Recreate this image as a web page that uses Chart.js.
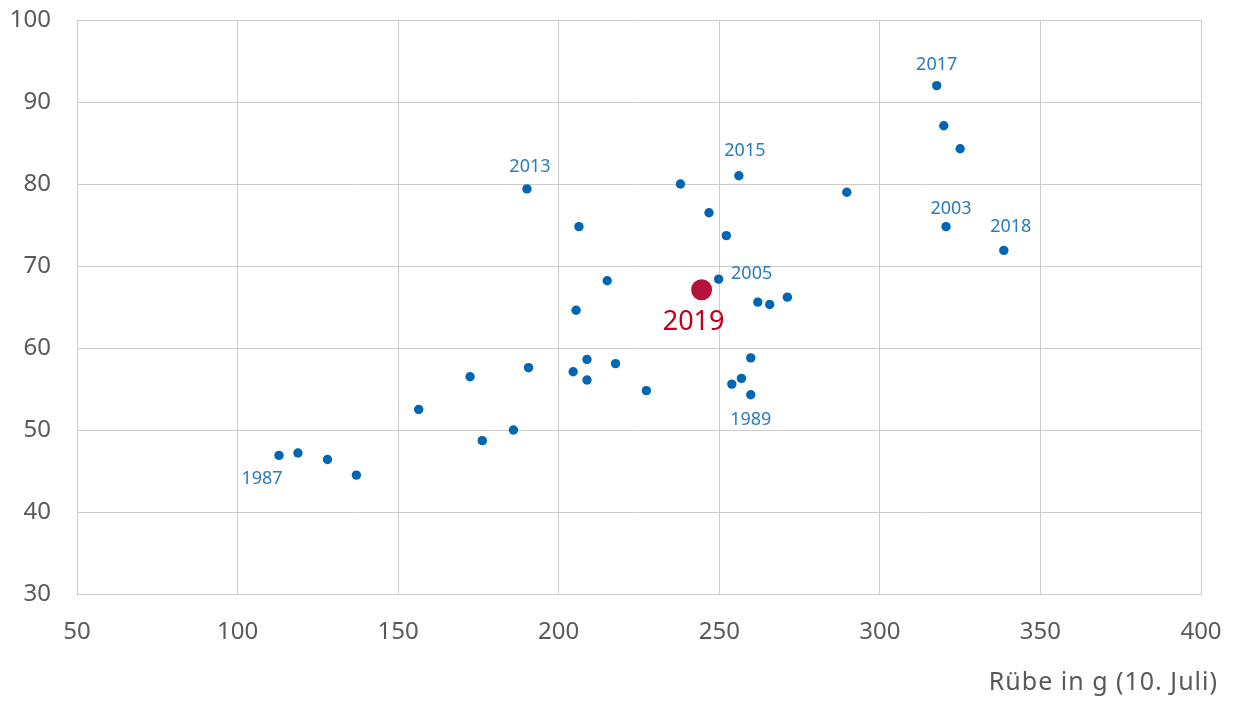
<!DOCTYPE html>
<html>
<head>
<meta charset="utf-8">
<script src="https://cdn.jsdelivr.net/npm/chart.js@4.4.1/dist/chart.umd.min.js"></script>
<style>
  html, body { margin: 0; padding: 0; background: #fff; }
  #wrap { width: 1233px; height: 706px; }
</style>
</head>
<body>
<div id="wrap"><canvas id="chart" width="1233" height="706"></canvas></div>
<script>
// Rübe in g (10. Juli) vs. Ertrag
const beetWeight = [112.9, 118.8, 128.0, 137.0, 156.4, 172.4, 176.2, 185.9, 190.1, 190.6,
  204.5, 205.4, 206.3, 208.8, 208.8, 215.1, 217.7, 227.3, 237.9, 246.8,
  249.8, 252.2, 253.9, 256.1, 256.9, 259.8, 259.8, 262.0, 265.7, 271.2,
  289.7, 317.7, 319.9, 320.6, 325.0, 338.6];
const yieldValues = [46.9, 47.2, 46.4, 44.5, 52.5, 56.5, 48.7, 50.0, 79.4, 57.6,
  57.1, 64.6, 74.8, 58.6, 56.1, 68.2, 58.1, 54.8, 80.0, 76.5,
  68.4, 73.7, 55.6, 81.0, 56.3, 58.8, 54.3, 65.6, 65.3, 66.2,
  79.0, 92.0, 87.1, 74.8, 84.3, 71.9];
const pointYears = ['1987', null, null, null, null, null, null, null, '2013', null,
  null, null, null, null, null, null, null, null, null, null,
  '2005', null, null, '2015', null, null, '1989', null, null, null,
  null, '2017', null, '2003', null, '2018'];

const currentYear = '2019';
const currentWeight = [244.5];
const currentYield = [67.1];

const xTicks = [50, 100, 150, 200, 250, 300, 350, 400];
const yTicks = [30, 40, 50, 60, 70, 80, 90, 100];
const xTitle = 'Rübe in g (10. Juli)';

// label placement relative to the point (pixels)
const labelOffsets = {
  '1987': [-17, 23], '2013': [3, -22], '2005': [33, -5], '2015': [6, -25],
  '1989': [0, 25], '2017': [0, -21], '2003': [5, -18], '2018': [7, -24]
};

const yearLabels = {
  id: 'yearLabels',
  afterDatasetsDraw(chart) {
    const ctx = chart.ctx;
    ctx.save();
    ctx.textAlign = 'center';
    ctx.textBaseline = 'middle';
    ctx.font = '18px "Noto Sans"';
    ctx.fillStyle = '#2b7bc0';
    const meta = chart.getDatasetMeta(0);
    pointYears.forEach((year, i) => {
      if (!year) return;
      const p = meta.data[i];
      const off = labelOffsets[year] || [0, -20];
      ctx.fillText(year, p.x + off[0], p.y + off[1]);
    });
    const red = chart.getDatasetMeta(1).data[0];
    ctx.font = '27px "Noto Sans"';
    ctx.fillStyle = '#c0001a';
    ctx.fillText(currentYear, red.x - 8, red.y + 33);

    // axis title, right aligned under the ticks
    ctx.font = '25px "Noto Sans"';
    ctx.letterSpacing = '1px';
    ctx.fillStyle = '#595959';
    ctx.textAlign = 'right';
    ctx.textBaseline = 'alphabetic';
    ctx.fillText(xTitle, 1218, 690);
    ctx.restore();
  }
};

new Chart(document.getElementById('chart'), {
  type: 'scatter',
  data: {
    datasets: [
      {
        label: 'Jahre',
        data: beetWeight.map((x, i) => ({ x: x, y: yieldValues[i] })),
        backgroundColor: '#0066b3',
        borderWidth: 0,
        pointRadius: 4.7
      },
      {
        label: currentYear,
        data: currentWeight.map((x, i) => ({ x: x, y: currentYield[i] })),
        backgroundColor: '#b5123b',
        borderWidth: 0,
        pointRadius: 10.5
      }
    ]
  },
  options: {
    responsive: false,
    animation: false,
    layout: { padding: { left: 0, right: 32, top: 20, bottom: 0 } },
    plugins: {
      legend: { display: false },
      tooltip: { enabled: false }
    },
    scales: {
      x: {
        type: 'linear',
        min: 50,
        max: 400,
        afterBuildTicks: axis => { axis.ticks = xTicks.map(v => ({ value: v })); },
        afterFit: axis => {
          axis.height = 112;
          axis.paddingLeft = 0;
          axis.paddingRight = 0;
        },
        grid: { color: '#cccccc', lineWidth: 1, drawTicks: false },
        border: { color: '#cccccc' },
        ticks: {
          padding: 24,
          color: '#595959',
          font: { family: 'Noto Sans', size: 24 }
        }
      },
      y: {
        type: 'linear',
        min: 30,
        max: 100,
        afterBuildTicks: axis => { axis.ticks = yTicks.map(v => ({ value: v })); },
        afterFit: axis => {
          axis.width = 77;
          axis.paddingTop = 0;
          axis.paddingBottom = 0;
        },
        grid: { color: '#cccccc', lineWidth: 1, drawTicks: false },
        border: { color: '#cccccc' },
        ticks: {
          padding: 26,
          color: '#595959',
          font: { family: 'Noto Sans', size: 24 }
        }
      }
    }
  },
  plugins: [yearLabels]
});
</script>
</body>
</html>
